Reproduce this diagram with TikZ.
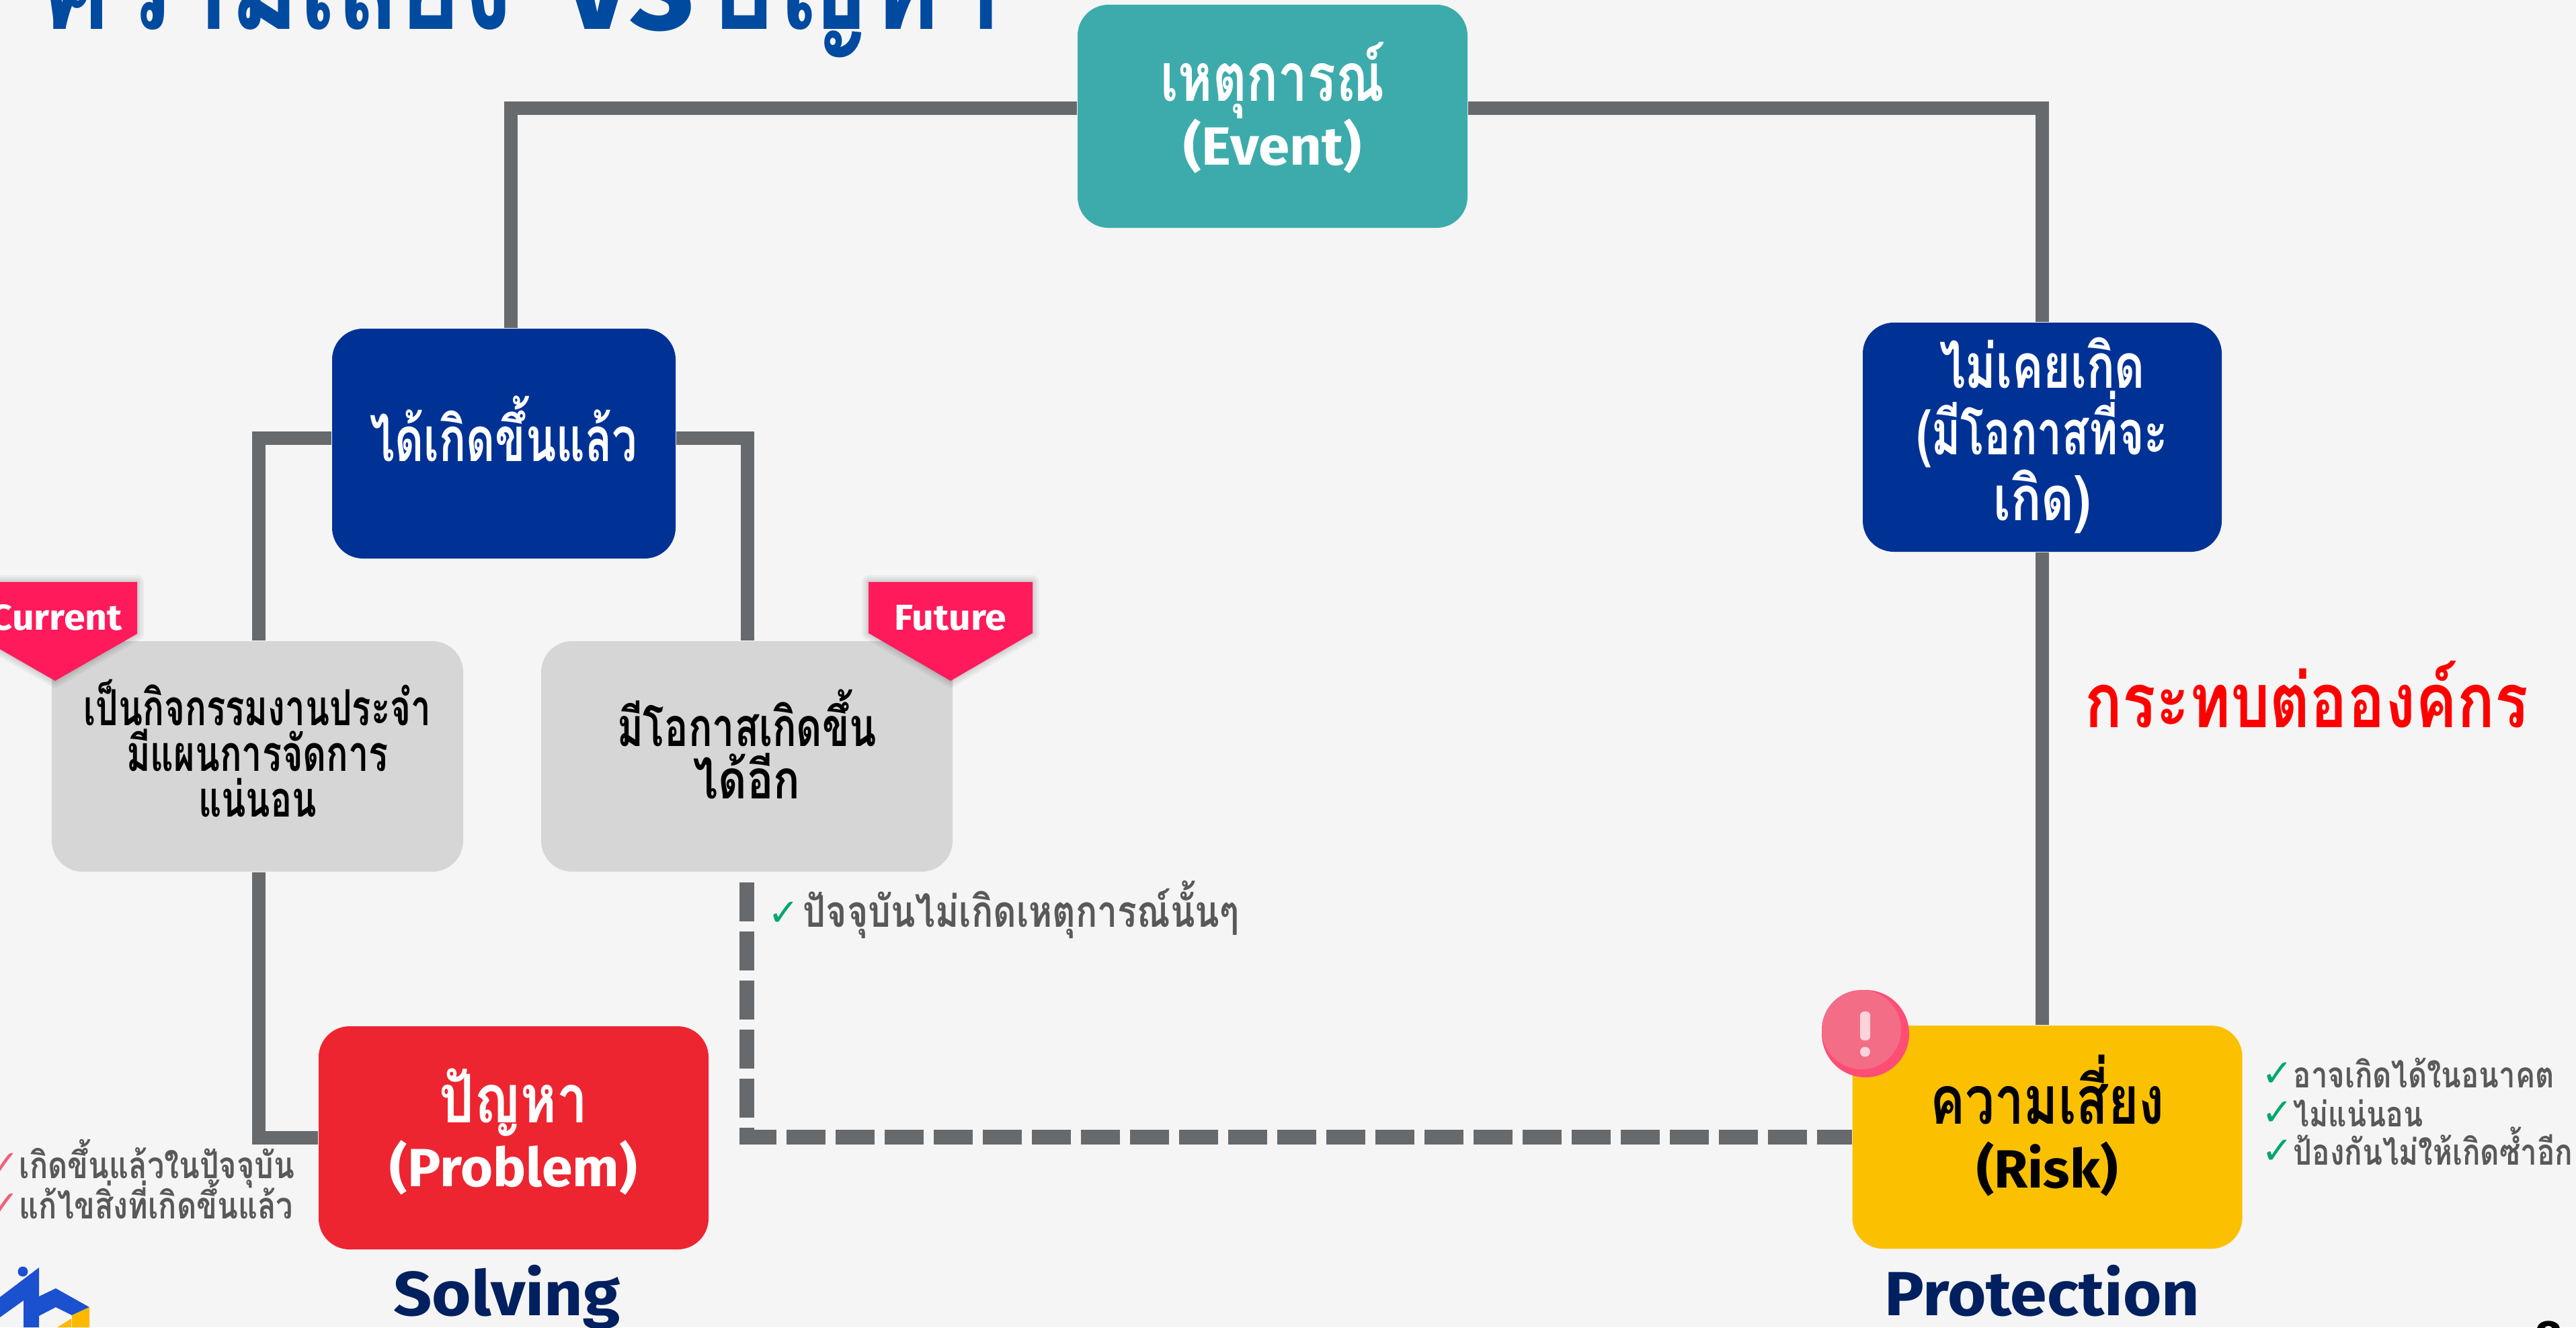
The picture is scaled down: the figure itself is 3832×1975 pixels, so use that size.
\documentclass[tikz,border=0pt]{standalone}
\usepackage{graphicx}
\usepackage{fontspec}
\setmainfont{Noto Sans}
\newfontfamily\tf[Script=Thai,FakeStretch=0.82]{Loma}
\newfontfamily\fa{Fira Sans}
\newfontfamily\dv{DejaVu Sans}
\newcommand{\fs}[2]{\fontsize{#1}{#2}\selectfont}
\newcommand{\sx}[2]{\scalebox{#1}[1]{#2}}
\definecolor{bgc}{HTML}{F5F5F5}
\definecolor{connc}{HTML}{666A6D}
\definecolor{eventc}{HTML}{3DABAB}
\definecolor{navyc}{HTML}{003296}
\definecolor{greyc}{HTML}{D6D6D6}
\definecolor{redc}{HTML}{ED2530}
\definecolor{yellowc}{HTML}{FBC000}
\definecolor{badgec}{HTML}{FF1A5B}
\definecolor{alertc}{HTML}{FF4D76}
\definecolor{alertic}{HTML}{F26D85}
\definecolor{listc}{HTML}{595959}
\definecolor{titlec}{HTML}{004AA0}
\definecolor{headc}{HTML}{002060}
\definecolor{checkc}{HTML}{00A86B}
\definecolor{checkr}{HTML}{F2607A}
\definecolor{logob}{HTML}{1B50CF}
\definecolor{logoy}{HTML}{FFB800}
\pgfdeclarelayer{bg}
\pgfsetlayers{bg,main}
\tikzset{
  box/.style={rounded corners=11.5pt,inner sep=0pt},
  bigbox/.style={box,minimum width=145pt,minimum height=83pt},
  navybox/.style={box,fill=navyc},
  greybox/.style={box,fill=greyc,minimum width=153pt,minimum height=85.75pt},
  boxtext/.style={inner sep=0pt,align=center},
  bigtext/.style={boxtext,font=\tf\bfseries\fs{25}{23.75}},
  navytext/.style={boxtext,text=white,font=\tf\bfseries\fs{23}{21.75}},
  conn/.style={draw=connc,line width=5pt,miter limit=10},
  dashconn/.style={conn,line width=5.5pt,dash pattern=on 14.5pt off 3.75pt,dash phase=14.5pt},
  badge/.style={fill=badgec},
  badgetext/.style={text=white,anchor=base,inner sep=0pt,font=\fa\bfseries\fs{13.4}{15}},
  listitem/.style={text=listc,anchor=base west,inner sep=0pt},
  heading/.style={text=headc,anchor=base,inner sep=0pt,font=\fa\bfseries\fs{23.2}{26}},
  tick/.style={anchor=base west,inner sep=0pt,font=\dv\fs{14}{15}},
}
\newcommand{\softshadow}[1]{%
  \foreach \w in {5,3.5,2,1}{\draw[black,opacity=.04,line width=\w pt,line join=round] #1;}}
\newcommand{\lat}{\fa\bfseries\fs{20}{23.75}}
\begin{document}
\begin{tikzpicture}[x=0.25pt,y=-0.25pt]
\useasboundingbox (0,0) rectangle (3832,1975);
\clip (0,0) rectangle (3832,1975);
% boxes
\node[bigbox,fill=eventc] (event) at (1893,173) {};
\node[navybox,minimum width=127.75pt,minimum height=85.5pt] (done) at (749.5,660) {};
\node[navybox,minimum width=133.5pt,minimum height=85.25pt] (never) at (3038,650.5) {};
\node[greybox] (current) at (383,1125.5) {};
\node[greybox] (future) at (1111,1125.5) {};
\node[bigbox,fill=redc] (problem) at (764,1693) {};
\node[bigbox,fill=yellowc] (risk) at (3045.5,1692) {};
% box texts
\node[bigtext,text=white] (eventt) at (1893,160) {\sx{.95}{เหตุการณ์}\\{\lat\sx{1.04}{(Event)}}};
\node[navytext] (donet) at (749.5,638) {\sx{.88}{ได้เกิดขึ้นแล้ว}};
\node[navytext] (nevert) at (3038,648) {\sx{.92}{ไม่เคยเกิด}\\\sx{.87}{(มีโอกาสที่จะ}\\เกิด)};
\node[boxtext,font=\tf\bfseries\fs{18.5}{17}] (currentt) at (383,1113) {\sx{.87}{เป็นกิจกรรมงานประจำ}\\\sx{.89}{มีแผนการจัดการ}\\\sx{.88}{แน่นอน}};
\node[boxtext,font=\tf\bfseries\fs{20}{19.5}] (futuret) at (1111,1107) {\sx{.9}{มีโอกาสเกิดขึ้น}\\ได้อีก};
\node[bigtext,text=white] (problemt) at (764,1684) {ปัญหา\\{\lat\sx{1.03}{(Problem)}}};
\node[bigtext,text=black] (riskt) at (3045.5,1675) {\sx{.95}{ความเสี่ยง}\\{\lat\sx{1.02}{(Risk)}}};
% connectors
\coordinate (tl) at (760,161);
\coordinate (tr) at (3038,161);
\coordinate (jl) at (385,652);
\coordinate (jr) at (1112,652);
\begin{pgfonlayer}{bg}
\fill[bgc] (0,0) rectangle (3832,1975);
\draw[conn] (event.west |- tl) -- (tl) -- (tl |- done.north);
\draw[conn] (event.east |- tr) -- (tr) -- (never.north);
\draw[conn] (done.west |- jl) -- (jl) -- (jl |- current.north);
\draw[conn] (done.east |- jr) -- (jr) -- (jr |- future.north);
\draw[conn] (jl |- current.south) |- (problem.west);
\draw[dashconn] (future.south) |- (risk.west);
\draw[conn] (never.south) -- (never.south |- risk.north);
\end{pgfonlayer}
% badges
\softshadow{(-40,866) -- (204,866) -- (204,943) -- (82,1013) -- (-40,943) -- cycle}
\fill[badge] (-40,866) -- (204,866) -- (204,943) -- (82,1013) -- (-40,943) -- cycle;
\node[badgetext] (curtag) at (84,937) {\sx{1.07}{Current}};
\softshadow{(1292,866) -- (1536,866) -- (1536,942) -- (1414,1013) -- (1292,942) -- cycle}
\fill[badge] (1292,866) -- (1536,866) -- (1536,942) -- (1414,1013) -- (1292,942) -- cycle;
\node[badgetext] (futtag) at (1414,937) {\sx{1.07}{Future}};
% alert
\fill[alertc] (2775,1538) circle[radius=65];
\fill[alertic] (2769,1532) circle[radius=59];
\fill[white,opacity=.7,rounded corners=1.5pt] (2767,1505) rectangle (2782,1548);
\fill[white,opacity=.7] (2774.5,1565) circle[radius=7.5];
% title and labels
\node[anchor=base west,inner sep=0pt,text=titlec] (title) at (60,43) {\tf\bfseries\fs{52}{60}\sx{.92}{ความเสี่ยง}\hspace{18.5pt}{\fa\sx{.95}{vs}}\hspace{4pt}\sx{.96}{ปัญหา}};
\node[anchor=base west,inner sep=0pt,text=red,font=\tf\bfseries\fs{28.2}{32}] (impact) at (3101,1082) {กระทบต่อองค์กร};
\node[heading] (solving) at (754,1957) {\sx{1.08}{Solving}};
\node[heading] (protection) at (3038,1957) {\sx{1.06}{Protection}};
% lists
\node[tick,text=checkc] (c1) at (1142,1377) {✓};
\node[listitem,font=\tf\bfseries\fs{16.3}{18}] (l1) at (1194,1379) {ปัจจุบันไม่เกิดเหตุการณ์นั้นๆ};
\node[tick,text=checkr] (c2) at (-18,1751) {✓};
\node[listitem,font=\tf\bfseries\fs{13.75}{15}] (l2) at (28,1753) {เกิดขึ้นแล้วในปัจจุบัน};
\node[tick,text=checkr] (c3) at (-18,1811) {✓};
\node[listitem,font=\tf\bfseries\fs{13.75}{15}] (l3) at (28,1813) {แก้ไขสิ่งที่เกิดขึ้นแล้ว};
\node[tick,text=checkc] (c4) at (3364,1616) {✓};
\node[listitem,font=\tf\bfseries\fs{13.3}{15}] (l4) at (3411,1618) {อาจเกิดได้ในอนาคต};
\node[tick,text=checkc] (c5) at (3364,1674) {✓};
\node[listitem,font=\tf\bfseries\fs{13}{15}] (l5) at (3411,1676) {ไม่แน่นอน};
\node[tick,text=checkc] (c6) at (3364,1731) {✓};
\node[listitem,font=\tf\bfseries\fs{13.4}{15}] (l6) at (3411,1733) {ป้องกันไม่ให้เกิดซ้ำอีก};
% logo
\fill[logob] (34,1892) circle[radius=7.5];
\fill[logob] (58,1886) -- (58,1929) -- (83,1917) -- (133,1945) -- (107,1957) -- (83,1945) -- (58,1958) -- (58,1975) -- (35,1975) -- (35,1935) -- (0,1960) -- (0,1930) -- cycle;
\fill[logoy] (107,1957) -- (133,1945) -- (133,1975) -- (107,1975) -- cycle;
\fill[logoy] (85,1975) -- (106,1962) -- (106,1975) -- cycle;
% page number
\node[anchor=base,inner sep=0pt,font=\fa\bfseries\fs{18}{20}] (page) at (3791,2015) {8};
\end{tikzpicture}
\end{document}
